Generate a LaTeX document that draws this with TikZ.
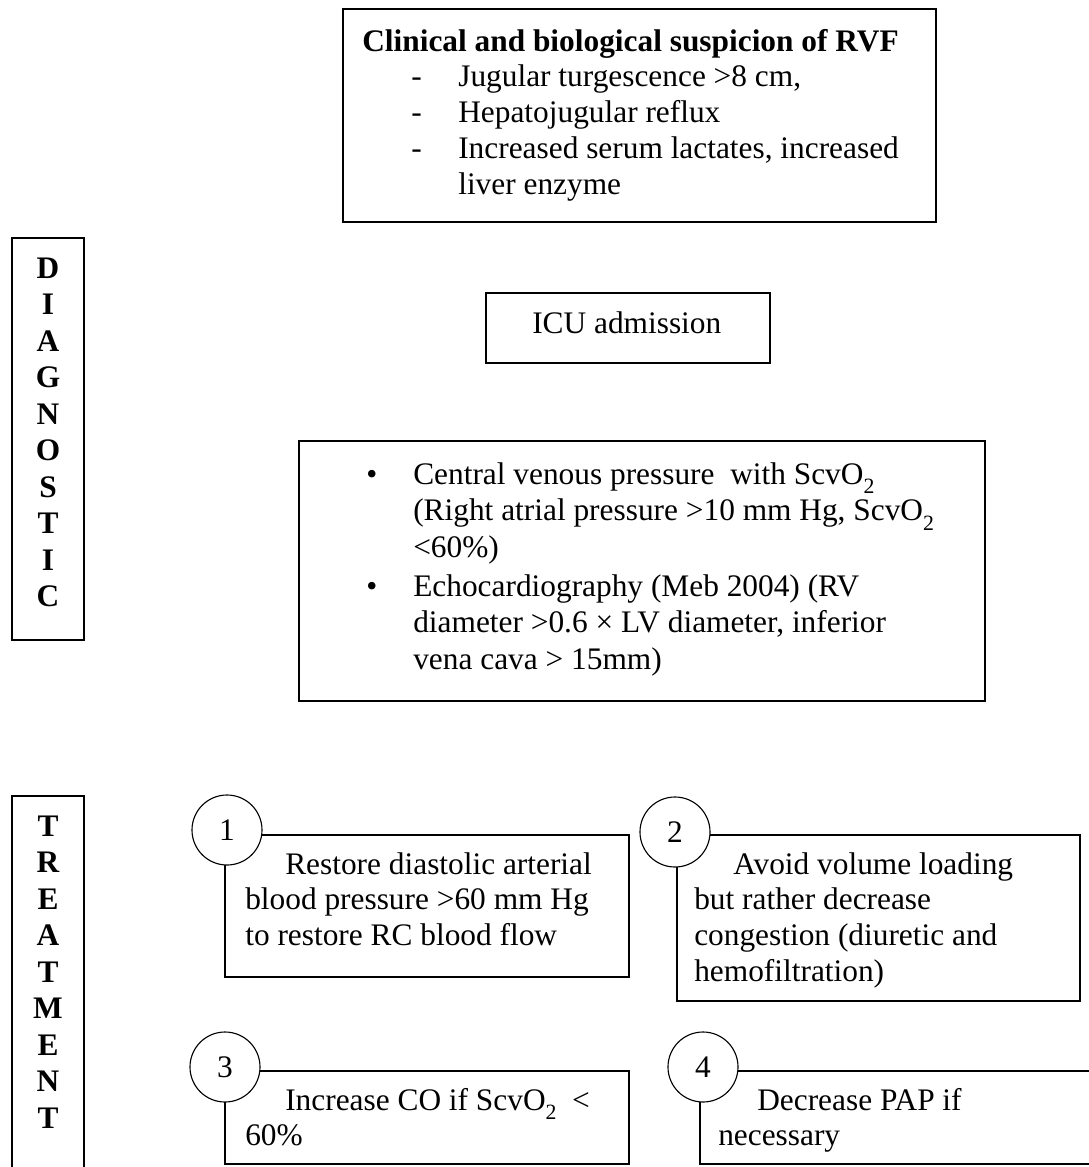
\documentclass[tikz,border=0pt]{standalone}
\usepackage{fontspec}
\setmainfont{Liberation Serif}
\newcommand{\lowidx}[1]{\raisebox{-0.3em}{\fontsize{15.5}{16}\selectfont #1}}
\tikzset{
  box/.style={shape=rectangle, draw, line width=1.4pt, inner sep=0pt},
  numcirc/.style={shape=circle, draw, fill=white, line width=0.8pt, minimum size=1.75cm, inner sep=0pt},
  txt/.style={anchor=base west, inner sep=0pt},
  sidelabel/.style={anchor=base, inner sep=0pt, font=\fontsize{22.3}{25.96}\selectfont\bfseries}
}
\begin{document}
\begin{tikzpicture}[x=0.025cm, y=-0.025cm, font=\fontsize{22.3}{25.5}\selectfont]
	\useasboundingbox (0,0) rectangle (1089,1167);
	\clip (0,0) rectangle (1089,1167);
	% Diagnostic part:
	\node[box, minimum width=14.825cm, minimum height=5.325cm] (suspicion) at (639.5,115.5){};
	\node[txt] (suspiciontxt) at (362,51){\begin{tabular}[t]{@{}p{2.4cm}@{}l@{}}
		\multicolumn{2}{@{}l@{}}{\textbf{Clinical and biological suspicion of RVF}}\\
		\hspace*{1.225cm}- & Jugular turgescence >8 cm,\\
		\hspace*{1.225cm}- & Hepatojugular reflux\\
		\hspace*{1.225cm}- & Increased serum lactates, increased\\
		& liver enzyme
	\end{tabular}};
	\node[box, minimum width=1.8cm, minimum height=10.05cm] (diag) at (48,439){};
	\node[sidelabel] (diagtxt) at (48,278){\begin{tabular}[t]{@{}c@{}}D\\I\\A\\G\\N\\O\\S\\T\\I\\C\end{tabular}};
	\node[box, minimum width=7.1cm, minimum height=1.75cm] (icu) at (628,328){};
	\node[txt] (icutxt) at (532,333){ICU admission};
	\node[box, minimum width=17.15cm, minimum height=6.5cm] (monitor) at (642,571){};
	\node[txt, font=\fontsize{22.3}{26.1}\selectfont] (monitortxt) at (366,484){\begin{tabular}[t]{@{}p{1.175cm}@{}l@{}}
		\textbullet & Central venous pressure\ \ with ScvO\lowidx{2}\\
		& (Right atrial pressure >10 mm Hg, ScvO\lowidx{2}\\
		& <60\%)\\[1.5pt]
		\textbullet & Echocardiography (Meb 2004) (RV\\
		& diameter >0.6 × LV diameter, inferior\\
		& vena cava > 15mm)
	\end{tabular}};
	% Treatment part:
	\node[box, minimum width=1.8cm, minimum height=10.1cm] (treat) at (48,998){};
	\node[sidelabel] (treattxt) at (48,836){\begin{tabular}[t]{@{}c@{}}T\\R\\E\\A\\T\\M\\E\\N\\T\end{tabular}};
	\node[box, minimum width=10.1cm, minimum height=3.55cm] (pressure) at (427,906){};
	\node[txt] (pressuretxt) at (245,874){\begin{tabular}[t]{@{}l@{}}
		\hspace*{1cm}Restore diastolic arterial\\
		blood pressure >60 mm Hg\\
		to restore RC blood flow
	\end{tabular}};
	\node[numcirc] (one) at (227,830){1};
	\node[box, minimum width=10.075cm, minimum height=4.15cm] (volume) at (878.5,918){};
	\node[txt] (volumetxt) at (694,874){\begin{tabular}[t]{@{}l@{}}
		\hspace*{0.975cm}Avoid volume loading\\
		but rather decrease\\
		congestion (diuretic and\\
		hemofiltration)
	\end{tabular}};
	\node[numcirc] (two) at (675,832){2};
	\node[box, minimum width=10.1cm, minimum height=2.325cm] (output) at (427,1117.5){};
	\node[txt] (outputtxt) at (245,1110){\begin{tabular}[t]{@{}l@{}}
		\hspace*{1cm}Increase CO if ScvO\lowidx{2}\ \ <\\
		60\%
	\end{tabular}};
	\node[numcirc] (three) at (225,1067){3};
	\node[box, minimum width=10.25cm, minimum height=2.325cm] (pap) at (905,1117.5){};
	\node[txt] (paptxt) at (718,1110){\begin{tabular}[t]{@{}l@{}}
		\hspace*{0.975cm}Decrease PAP if\\
		necessary
	\end{tabular}};
	\node[numcirc] (four) at (703,1067){4};
\end{tikzpicture}
\end{document}
